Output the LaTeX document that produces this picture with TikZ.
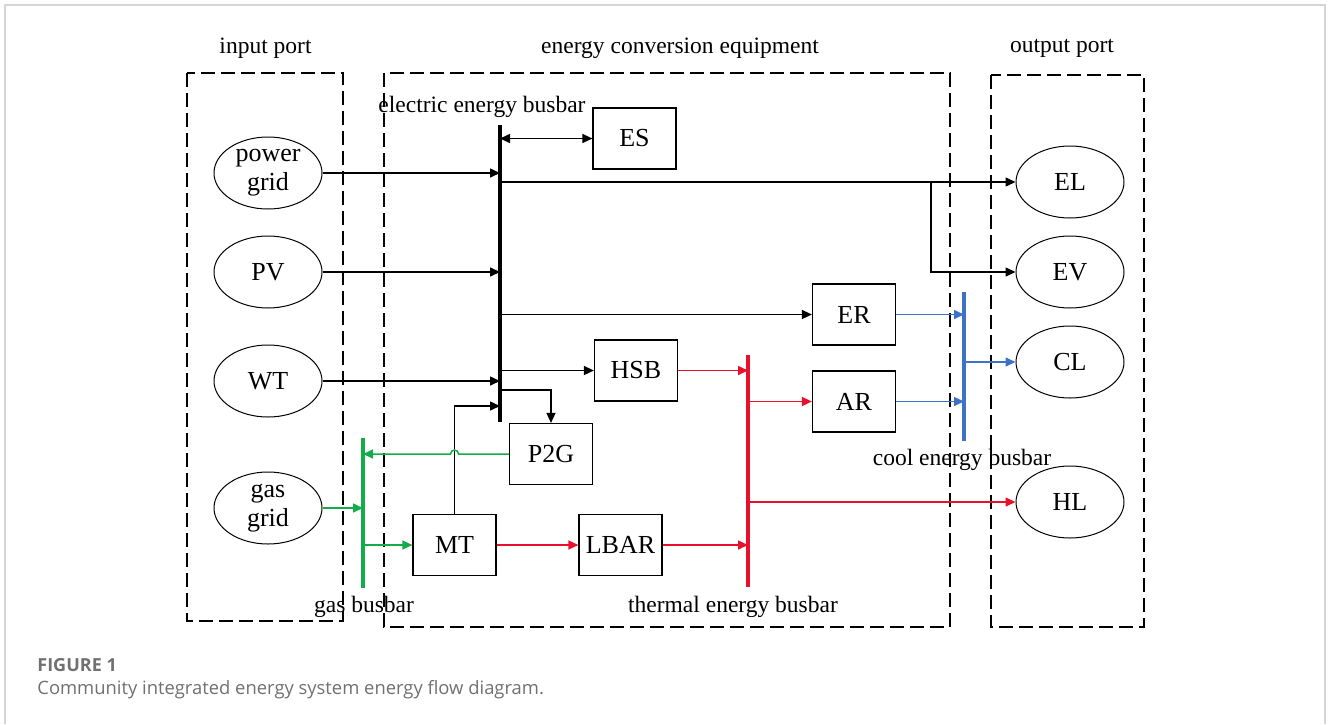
\documentclass[tikz,border=0pt]{standalone}
\usepackage{fontspec}
\setmainfont{Liberation Serif}
\newfontfamily\capfont{Open Sans}
\usepackage{tikz}
\usetikzlibrary{arrows.meta,shapes.geometric,calc}

\definecolor{heatred}{RGB}{232,16,42}
\definecolor{gasgreen}{RGB}{20,172,72}
\definecolor{coolblue}{RGB}{62,114,200}
\definecolor{framegray}{RGB}{214,214,214}
\definecolor{capgray}{RGB}{112,112,112}

\tikzset{
    ioport/.style={ellipse, draw, line width=0.5pt, minimum width=54pt, minimum height=36pt, inner sep=0pt, align=center, font=\fontsize{13}{14.5}\selectfont},
    device/.style={rectangle, draw, line width=0.6pt, minimum width=41.5pt, minimum height=30.5pt, inner sep=0pt, font=\fontsize{13}{14.5}\selectfont},
    zone/.style={draw, dash pattern=on 7pt off 3pt, line width=0.6pt},
    heading/.style={inner sep=0pt, font=\fontsize{11.75}{13}\selectfont},
    flow/.style={-{Triangle[length=5pt,width=4.5pt]}, line width=0.75pt},
    busbar/.style={line width=2pt},
}

\begin{document}
\begin{tikzpicture}[x=0.5pt, y=-0.5pt]
        \useasboundingbox (0,0) rectangle (1328,724);
        \draw[framegray, line width=1pt] (5,724) -- (5,5) -- (1325,5) -- (1325,724);

        \draw[zone] (187,73) rectangle (343,621);
        \draw[zone] (384,73) rectangle (950,627);
        \draw[zone] (991,75) rectangle (1144,627);

        \node[heading] (intitle) at (265.5,48) {input port};
        \node[heading] (convtitle) at (680,48) {energy conversion equipment};
        \node[heading] (outtitle) at (1062,48) {output port};

        \node[ioport] (grid) at (268,173) {power\\grid};
        \node[ioport] (pv) at (268,272) {PV};
        \node[ioport] (wt) at (268,381) {WT};
        \node[ioport] (gas) at (268,508) {gas\\grid};
        \node[ioport] (el) at (1070,182) {EL};
        \node[ioport] (ev) at (1070,272) {EV};
        \node[ioport] (cl) at (1070,362) {CL};
        \node[ioport] (hl) at (1070,502) {HL};

        \node[device] (es) at (634.5,138.5) {ES};
        \node[device] (er) at (854,314.5) {ER};
        \node[device] (hsb) at (636,370.5) {HSB};
        \node[device] (ar) at (854,401.5) {AR};
        \node[device] (p2g) at (551,454) {P2G};
        \node[device] (mt) at (454.5,545) {MT};
        \node[device] (lbar) at (620.5,545) {LBAR};

        \coordinate (ebus) at (500,125);
        \coordinate (ebusend) at (500,422);
        \coordinate (gbus) at (363,438);
        \coordinate (gbusend) at (363,588);
        \coordinate (tbus) at (748,355);
        \coordinate (tbusend) at (748,587);
        \coordinate (cbus) at (964,292);
        \coordinate (cbusend) at (964,441);
        \coordinate (evtap) at (931,182);
        \coordinate (p2gtap) at (500,390);
        \coordinate (mttap) at (500,406);

        \draw[busbar] (ebus) -- (ebusend);
        \draw[busbar, gasgreen] (gbus) -- (gbusend);
        \draw[busbar, heatred] (tbus) -- (tbusend);
        \draw[busbar, coolblue] (cbus) -- (cbusend);

        \node[heading] (elabel) at (482,107) {electric energy busbar};
        \node[heading] (glabel) at (364,607) {gas busbar};
        \node[heading] (tlabel) at (733,607) {thermal energy busbar};
        \node[heading] (clabel) at (962,460) {cool energy busbar};

        \draw[flow] (grid.east) -- (grid.east -| ebus);
        \draw[flow] (pv.east) -- (pv.east -| ebus);
        \draw[flow] (wt.east) -- (wt.east -| ebus);
        \draw[flow, {Triangle[length=5pt,width=4.5pt]}-{Triangle[length=5pt,width=4.5pt]}] (es.west -| ebus) -- (es.west);
        \draw[flow] (ebus |- el.west) -- (el.west);
        \draw[flow] (evtap) |- (ev.west);
        \draw[flow] (ebus |- er.west) -- (er.west);
        \draw[flow] (ebus |- hsb.west) -- (hsb.west);
        \draw[flow] (p2gtap) -| (p2g.north);
        \draw[flow] (mt.north) |- (mttap);

        \draw[flow, gasgreen] (gas.east) -- (gas.east -| gbus);
        \draw[flow, gasgreen] (gbus |- mt.west) -- (mt.west);
        \draw[flow, gasgreen] (p2g.west) -- ($(mt.north |- p2g.west)+(4,0)$) arc[start angle=0, end angle=-180, radius=4] -- (p2g.west -| gbus);

        \draw[flow, heatred] (mt.east) -- (lbar.west);
        \draw[flow, heatred] (lbar.east) -- (lbar.east -| tbus);
        \draw[flow, heatred] (hsb.east) -- (hsb.east -| tbus);
        \draw[flow, heatred] (tbus |- ar.west) -- (ar.west);
        \draw[flow, heatred] (tbus |- hl.west) -- (hl.west);

        \draw[flow, coolblue] (er.east) -- (er.east -| cbus);
        \draw[flow, coolblue] (ar.east) -- (ar.east -| cbus);
        \draw[flow, coolblue] (cbus |- cl.west) -- (cl.west);

        \node[anchor=west, inner sep=0pt, text=capgray, font=\capfont\bfseries\fontsize{9}{11}\selectfont] (figno) at (37,665) {FIGURE 1};
        \node[anchor=west, inner sep=0pt, text=capgray, font=\capfont\fontsize{9.2}{11}\selectfont] (figcap) at (37,690) {Community integrated energy system energy flow diagram.};
\end{tikzpicture}
\end{document}
